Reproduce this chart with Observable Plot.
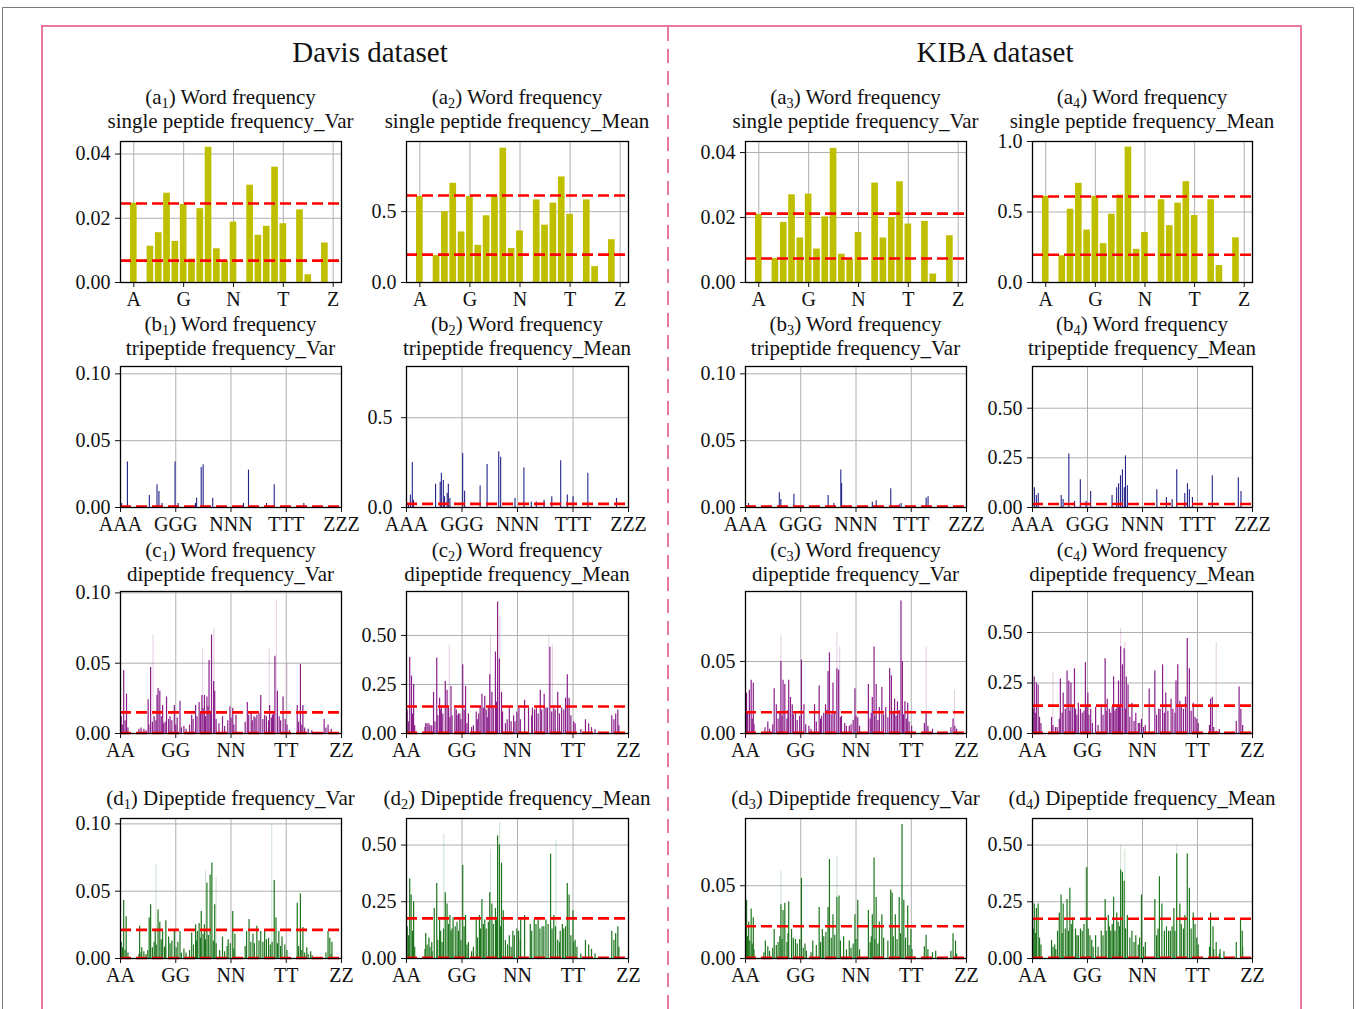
<!DOCTYPE html>
<html><head><meta charset="utf-8">
<script src="https://cdn.jsdelivr.net/npm/d3@7"></script>
<script src="https://cdn.jsdelivr.net/npm/@observablehq/plot@0.6"></script>
<style>
body{margin:0;background:#fff;}
#root{position:relative;width:1360px;height:1009px;overflow:hidden;background:#fff;font-family:"Liberation Serif",serif;color:#111;}
.ttl{position:absolute;transform:translateX(-50%);white-space:nowrap;font-size:21px;line-height:22px;height:22px;text-align:center;}
.ds{position:absolute;transform:translateX(-50%);white-space:nowrap;font-size:29px;line-height:34px;}
.sb{font-size:0.68em;position:relative;top:0.28em;line-height:0;}
</style></head><body><div id="root"></div>
<script>
// ---------- tick labels ----------
const singleTicks = ["A","G","N","T","Z"];
const diTicks = ["AA","GG","NN","TT","ZZ"];
const triTicks = ["AAA","GGG","NNN","TTT","ZZZ"];

// ---------- (a) single peptide frequency, 25 letters A..Z without J ----------
const a1Var  = [0.0247,0,0.0113,0.0155,0.0278,0.0128,0.0243,0.0073,0.0230,0.0421,0.0105,0.0069,0.0188,0,0.0303,0.0147,0.0175,0.0359,0.0183,0,0.0226,0.0024,0,0.0123,0];
const a2Mean = [0.607,0,0.19,0.50,0.70,0.357,0.607,0.262,0.471,0.607,0.948,0.24,0.364,0,0.583,0.405,0.56,0.745,0.481,0,0.583,0.112,0,0.302,0];
const a3Var  = [0.0210,0,0.0074,0.0185,0.0270,0.0137,0.0272,0.0103,0.0202,0.0413,0.0087,0.0072,0.0154,0,0.0306,0.0137,0.0200,0.0310,0.0180,0,0.0188,0.0026,0,0.0144,0];
const a4Mean = [0.611,0,0.19,0.52,0.703,0.372,0.611,0.276,0.484,0.62,0.96,0.235,0.355,0,0.587,0.403,0.563,0.715,0.475,0,0.587,0.12,0,0.317,0];

// ---------- (b) tripeptide frequency: [index of 15625, value] ----------
const b1Var  = [[82,0.003],[489,0.034],[2038,0.009],[2581,0.017],[2717,0.012],[2934,0.003],[3858,0.034],[4075,0.003],[5298,0.003],[5380,0.007],[5706,0.030],[5842,0.032],[6521,0.007],[8694,0.003],[9048,0.028],[10325,0.003],[10868,0.017],[12960,0.003]];
const b2Mean = [[136,0.02],[273,0.07],[409,0.25],[491,0.04],[2045,0.13],[2372,0.14],[2454,0.19],[2591,0.15],[2672,0.06],[2863,0.08],[2945,0.13],[3054,0.05],[3954,0.30],[4091,0.09],[5181,0.12],[5672,0.24],[6490,0.31],[6627,0.28],[7636,0.05],[8263,0.22],[8781,0.03],[9136,0.03],[9681,0.04],[10226,0.06],[10853,0.26],[11317,0.07],[11726,0.06],[12762,0.19],[14780,0.05]];
const b3Var  = [[217,0.003],[2391,0.011],[2500,0.006],[3423,0.010],[5842,0.009],[6249,0.003],[6738,0.028],[6793,0.018],[8966,0.004],[9238,0.005],[10270,0.014],[10868,0.002],[11004,0.003],[12770,0.007],[12906,0.008]];
const b4Mean = [[136,0.10],[272,0.06],[408,0.07],[2038,0.06],[2174,0.04],[2581,0.27],[2989,0.03],[3396,0.14],[3804,0.03],[4130,0.08],[5651,0.06],[5977,0.10],[6113,0.12],[6249,0.16],[6385,0.19],[6521,0.10],[6603,0.26],[6738,0.11],[8830,0.09],[9510,0.05],[9917,0.04],[10243,0.19],[10814,0.07],[11004,0.12],[11140,0.09],[11357,0.05],[12770,0.16],[14617,0.15],[14807,0.08]];

// ---------- (c) word dipeptide frequency: [index of 625, value] ----------
const c1Var  = [[9,0.0446],[17,0.028],[78,0.024],[85,0.047],[103,0.027],[106,0.032],[111,0.030],[119,0.020],[130,0.026],[136,0.010],[152,0.020],[168,0.023],[179,0.005],[201,0.013],[212,0.020],[222,0.022],[230,0.027],[237,0.027],[244,0.026],[250,0.052],[257,0.070],[263,0.037],[266,0.030],[288,0.012],[309,0.019],[317,0.018],[326,0.013],[358,0.022],[369,0.015],[377,0.012],[385,0.013],[396,0.027],[407,0.013],[421,0.020],[429,0.013],[436,0.055],[443,0.030],[459,0.026],[477,0.002],[499,0.020],[508,0.049],[515,0.020],[575,0.010],[586,0.006]];
const c1Low  = [[2,0.012],[5,0.006],[13,0.009],[21,0.004],[52,0.003],[58,0.004],[66,0.003],[72,0.002],[80,0.006],[90,0.008],[95,0.012],[100,0.009],[115,0.012],[122,0.007],[126,0.008],[140,0.012],[145,0.009],[156,0.006],[160,0.011],[172,0.004],[185,0.003],[195,0.006],[205,0.010],[216,0.012],[226,0.015],[233,0.018],[240,0.012],[247,0.019],[254,0.014],[270,0.010],[278,0.007],[294,0.005],[303,0.009],[312,0.011],[320,0.006],[352,0.008],[362,0.013],[372,0.009],[380,0.011],[391,0.014],[402,0.010],[412,0.012],[418,0.009],[426,0.011],[432,0.014],[448,0.012],[452,0.009],[465,0.010],[470,0.006],[503,0.008],[512,0.006],[520,0.004],[530,0.003],[540,0.002],[580,0.004],[595,0.003]];
const c1Faint = [[92,0.07],[232,0.06],[264,0.075],[420,0.06],[440,0.095],[470,0.05]];
const c2Mean = [[9,0.388],[14,0.293],[20,0.25],[54,0.05],[63,0.05],[71,0.04],[76,0.21],[85,0.385],[93,0.18],[98,0.14],[109,0.265],[114,0.22],[125,0.24],[136,0.13],[142,0.09],[150,0.10],[158,0.35],[166,0.24],[174,0.10],[183,0.03],[196,0.11],[207,0.14],[212,0.20],[220,0.19],[227,0.08],[234,0.30],[240,0.21],[250,0.415],[256,0.67],[261,0.38],[267,0.21],[278,0.05],[289,0.13],[305,0.06],[316,0.13],[332,0.17],[343,0.13],[354,0.13],[365,0.13],[376,0.22],[387,0.20],[392,0.13],[403,0.44],[414,0.13],[425,0.21],[447,0.18],[452,0.30],[457,0.18],[474,0.05],[490,0.02],[577,0.09],[588,0.10],[594,0.12]];
const c2Low  = [[2,0.12],[5,0.06],[17,0.10],[23,0.04],[52,0.03],[58,0.05],[66,0.04],[80,0.06],[88,0.09],[95,0.12],[102,0.10],[118,0.13],[122,0.08],[128,0.09],[140,0.12],[146,0.10],[153,0.07],[162,0.12],[170,0.05],[188,0.04],[199,0.07],[203,0.10],[216,0.13],[224,0.12],[230,0.14],[244,0.13],[253,0.16],[270,0.11],[283,0.07],[294,0.06],[301,0.09],[310,0.11],[320,0.07],[352,0.09],[360,0.12],[370,0.10],[380,0.12],[396,0.13],[408,0.11],[418,0.12],[430,0.10],[436,0.13],[442,0.12],[462,0.09],[470,0.06],[503,0.07],[512,0.05],[520,0.03],[530,0.02],[583,0.07],[597,0.04]];
const c2Faint = [[120,0.45],[236,0.50],[262,0.60],[400,0.50],[410,0.45]];
const c3Var  = [[3,0.028],[11,0.030],[16,0.037],[22,0.035],[63,0.008],[81,0.031],[87,0.020],[100,0.050],[106,0.037],[111,0.034],[122,0.037],[127,0.025],[132,0.020],[141,0.015],[158,0.051],[165,0.020],[179,0.005],[195,0.020],[208,0.033],[215,0.012],[226,0.020],[233,0.043],[237,0.056],[247,0.035],[258,0.045],[263,0.044],[271,0.012],[280,0.007],[293,0.005],[309,0.031],[317,0.011],[347,0.034],[358,0.025],[363,0.060],[369,0.034],[378,0.018],[385,0.032],[396,0.018],[407,0.045],[412,0.040],[421,0.024],[429,0.022],[439,0.092],[443,0.050],[450,0.022],[458,0.021],[469,0.005],[510,0.015],[586,0.010],[591,0.005]];
const c3Low  = [[6,0.014],[19,0.010],[24,0.006],[55,0.004],[68,0.003],[77,0.006],[92,0.010],[97,0.014],[103,0.012],[117,0.010],[120,0.016],[135,0.013],[146,0.009],[153,0.012],[170,0.006],[185,0.003],[200,0.008],[212,0.010],[221,0.014],[230,0.016],[242,0.013],[252,0.015],[268,0.011],[285,0.005],[298,0.006],[304,0.009],[312,0.012],[322,0.005],[352,0.010],[355,0.014],[365,0.012],[374,0.009],[390,0.013],[402,0.011],[417,0.014],[425,0.012],[434,0.016],[446,0.013],[454,0.010],[462,0.008],[505,0.007],[515,0.005],[528,0.003],[580,0.004],[596,0.003]];
const c3Faint = [[100,0.068],[258,0.07],[266,0.06],[510,0.06],[590,0.03]];
const c4Mean = [[5,0.28],[11,0.25],[16,0.24],[54,0.08],[65,0.03],[79,0.27],[87,0.20],[98,0.31],[103,0.26],[109,0.25],[119,0.32],[130,0.15],[141,0.10],[150,0.35],[157,0.20],[165,0.12],[179,0.13],[195,0.14],[206,0.37],[212,0.17],[222,0.10],[230,0.28],[237,0.12],[244,0.26],[250,0.43],[255,0.34],[260,0.42],[266,0.28],[271,0.24],[282,0.15],[293,0.10],[304,0.05],[315,0.03],[331,0.22],[347,0.31],[358,0.12],[369,0.34],[378,0.20],[393,0.17],[407,0.26],[412,0.34],[418,0.16],[434,0.18],[439,0.47],[445,0.32],[456,0.15],[461,0.08],[505,0.17],[510,0.18],[521,0.01],[586,0.23],[591,0.12]];
const c4Low  = [[2,0.12],[8,0.10],[20,0.08],[24,0.05],[58,0.04],[70,0.03],[76,0.07],[84,0.10],[93,0.12],[106,0.11],[114,0.13],[122,0.12],[126,0.09],[136,0.12],[146,0.11],[154,0.13],[160,0.09],[170,0.05],[186,0.04],[200,0.09],[209,0.11],[218,0.12],[226,0.13],[234,0.11],[240,0.14],[247,0.13],[264,0.12],[276,0.08],[288,0.06],[300,0.05],[309,0.07],[320,0.04],[352,0.09],[362,0.12],[374,0.10],[384,0.11],[398,0.12],[404,0.10],[422,0.13],[428,0.12],[450,0.11],[466,0.07],[470,0.05],[502,0.04],[514,0.03],[530,0.02],[578,0.06],[596,0.04]];
const c4Faint = [[58,0.30],[250,0.52],[262,0.45],[521,0.45]];

// ---------- (d) dipeptide frequency: [index of 625, value] ----------
const d1Var  = [[9,0.043],[16,0.031],[54,0.024],[60,0.008],[81,0.030],[85,0.040],[98,0.022],[106,0.036],[111,0.027],[119,0.020],[128,0.028],[136,0.016],[152,0.020],[168,0.020],[179,0.007],[201,0.019],[212,0.025],[217,0.020],[222,0.026],[228,0.035],[237,0.025],[244,0.056],[253,0.062],[258,0.071],[266,0.040],[288,0.016],[304,0.014],[317,0.035],[323,0.018],[356,0.020],[363,0.029],[374,0.018],[385,0.024],[396,0.020],[407,0.020],[418,0.015],[434,0.058],[439,0.030],[447,0.020],[456,0.016],[499,0.041],[508,0.048],[515,0.023],[526,0.008],[537,0.005],[586,0.020],[591,0.015],[597,0.012]];
const d1Low  = [[2,0.012],[6,0.008],[13,0.006],[21,0.004],[52,0.003],[58,0.004],[66,0.005],[72,0.003],[77,0.006],[90,0.008],[95,0.012],[101,0.010],[115,0.014],[124,0.008],[126,0.009],[140,0.011],[145,0.013],[157,0.008],[162,0.012],[172,0.004],[185,0.004],[195,0.006],[206,0.010],[214,0.013],[226,0.015],[233,0.018],[240,0.014],[248,0.017],[262,0.013],[270,0.011],[280,0.006],[294,0.005],[301,0.009],[310,0.011],[320,0.007],[352,0.009],[368,0.012],[378,0.011],[391,0.013],[402,0.012],[412,0.014],[423,0.010],[428,0.012],[443,0.011],[452,0.009],[464,0.010],[470,0.006],[503,0.009],[512,0.006],[520,0.004],[530,0.003],[541,0.002],[580,0.004],[595,0.003]];
const d1Faint = [[100,0.07],[240,0.065],[270,0.06],[427,0.10]];
const d2Mean = [[9,0.35],[13,0.28],[20,0.25],[54,0.11],[63,0.09],[71,0.07],[78,0.22],[85,0.33],[93,0.17],[100,0.07],[109,0.29],[114,0.24],[122,0.19],[131,0.18],[142,0.16],[150,0.17],[158,0.41],[166,0.19],[174,0.07],[183,0.03],[196,0.18],[205,0.19],[212,0.26],[220,0.17],[234,0.29],[240,0.24],[250,0.22],[256,0.54],[261,0.50],[267,0.42],[272,0.21],[289,0.10],[299,0.12],[310,0.13],[321,0.18],[332,0.19],[348,0.15],[359,0.17],[370,0.18],[381,0.14],[392,0.17],[405,0.46],[414,0.19],[425,0.08],[430,0.07],[447,0.14],[452,0.33],[457,0.28],[468,0.21],[474,0.08],[479,0.05],[490,0.02],[577,0.12],[588,0.11],[594,0.14]];
const d2Low  = [[2,0.14],[6,0.10],[17,0.12],[23,0.05],[52,0.04],[58,0.06],[66,0.05],[72,0.03],[88,0.08],[96,0.12],[104,0.13],[118,0.15],[125,0.12],[128,0.13],[137,0.14],[146,0.12],[153,0.08],[162,0.14],[170,0.06],[188,0.05],[200,0.09],[208,0.13],[216,0.15],[224,0.13],[230,0.16],[244,0.15],[253,0.17],[264,0.14],[278,0.08],[284,0.06],[294,0.05],[303,0.10],[315,0.12],[320,0.08],[352,0.12],[364,0.15],[375,0.13],[386,0.14],[398,0.15],[409,0.13],[419,0.14],[432,0.12],[438,0.15],[442,0.13],[462,0.10],[470,0.07],[503,0.08],[512,0.06],[520,0.04],[530,0.02],[583,0.08],[597,0.05]];
const d2Faint = [[105,0.55],[236,0.48],[262,0.60],[420,0.52]];
const d3Var  = [[3,0.040],[9,0.025],[16,0.034],[22,0.028],[56,0.012],[63,0.008],[81,0.020],[100,0.037],[106,0.033],[111,0.038],[122,0.039],[130,0.020],[141,0.013],[158,0.055],[168,0.010],[190,0.012],[208,0.035],[217,0.020],[233,0.035],[237,0.068],[247,0.030],[258,0.042],[264,0.043],[277,0.015],[293,0.012],[309,0.030],[317,0.040],[347,0.033],[358,0.030],[363,0.069],[369,0.042],[378,0.025],[385,0.030],[410,0.047],[414,0.045],[423,0.030],[434,0.042],[442,0.092],[447,0.040],[458,0.036],[467,0.020],[510,0.016],[537,0.005],[586,0.017],[593,0.012]];
const d3Low  = [[6,0.015],[12,0.012],[19,0.010],[24,0.006],[52,0.004],[68,0.005],[77,0.007],[87,0.009],[92,0.011],[97,0.015],[103,0.013],[117,0.011],[120,0.017],[135,0.014],[146,0.010],[153,0.013],[163,0.007],[172,0.005],[185,0.004],[200,0.009],[212,0.011],[221,0.015],[227,0.018],[242,0.014],[252,0.016],[268,0.012],[285,0.006],[298,0.007],[304,0.010],[312,0.013],[322,0.006],[352,0.011],[355,0.015],[365,0.013],[374,0.010],[390,0.014],[402,0.012],[417,0.015],[428,0.013],[438,0.017],[452,0.014],[462,0.009],[470,0.006],[505,0.008],[515,0.006],[528,0.004],[580,0.005],[596,0.003]];
const d3Faint = [[100,0.06],[258,0.07],[442,0.05]];
const d4Mean = [[5,0.24],[11,0.22],[16,0.24],[54,0.08],[63,0.06],[71,0.12],[76,0.20],[81,0.28],[87,0.24],[98,0.26],[106,0.31],[114,0.18],[130,0.10],[146,0.15],[154,0.40],[163,0.10],[179,0.10],[195,0.12],[206,0.26],[215,0.19],[222,0.12],[230,0.27],[239,0.20],[250,0.39],[255,0.38],[260,0.34],[269,0.19],[282,0.12],[293,0.10],[309,0.28],[320,0.07],[347,0.26],[360,0.36],[367,0.24],[380,0.14],[391,0.12],[401,0.22],[409,0.46],[418,0.24],[432,0.19],[439,0.46],[445,0.31],[456,0.20],[461,0.15],[505,0.20],[512,0.14],[521,0.07],[532,0.04],[543,0.03],[590,0.17],[595,0.12]];
const d4Low  = [[2,0.13],[8,0.11],[20,0.09],[24,0.06],[58,0.05],[66,0.04],[84,0.11],[93,0.13],[102,0.12],[110,0.15],[122,0.13],[126,0.10],[136,0.13],[141,0.12],[158,0.13],[168,0.08],[172,0.05],[186,0.05],[200,0.10],[209,0.12],[218,0.14],[226,0.15],[234,0.12],[243,0.16],[247,0.14],[264,0.13],[276,0.09],[288,0.07],[300,0.06],[304,0.09],[315,0.05],[352,0.10],[356,0.13],[374,0.12],[386,0.12],[396,0.14],[404,0.12],[422,0.15],[428,0.13],[450,0.13],[466,0.09],[470,0.06],[502,0.05],[514,0.04],[530,0.02],[578,0.07],[596,0.05]];
const d4Faint = [[150,0.40],[250,0.50],[262,0.48],[409,0.50]];

// ---------- threshold lines (red dashed) ----------
const thrA = {a1:[0.0246,0.0068], a2:[0.614,0.197], a3:[0.0212,0.0074], a4:[0.61,0.197]};
const thrB = {b1:[0.0008], b2:[0.02], b3:[0.0008], b4:[0.018]};
const thrC = {c1:[0.015,0.0004], c2:[0.138,0.003], c3:[0.0148,0.0004], c4:[0.138,0.003]};
const thrD = {d1:[0.0213,0.0004], d2:[0.177,0.003], d3:[0.0222,0.0004], d4:[0.175,0.003]};

// ---------- layout ----------
const root = document.getElementById("root");
const COLS = [[120,341],[406,628],[745,966],[1032,1252]];
const ROWS = [[141,282],[366,507],[591,733],[818,958]];
const COL_A = "#bfbf00", COL_B = "#23238a", COL_C = "#8a1f8a", COL_D = "#1c761c";

function panel(p){
  const [L,R] = COLS[p.col], [T,B] = ROWS[p.row];
  const mL=72,mR=24,mT=12,mB=40;
  const W=R-L, H=B-T;
  const xT = p.xTicks, xLab = p.xLabels;
  const marks = [
    Plot.ruleY(p.yTicks.filter(t=>t>0), {stroke:"#b0b0b0", strokeWidth:1}),
    Plot.ruleX(xT, {stroke:"#b0b0b0", strokeWidth:1})
  ];
  if (p.bars) {
    const rows = p.bars.map((v,i)=>({i,v})).filter(d=>d.v>0);
    marks.push(Plot.rect(rows, {x1:d=>d.i-0.4, x2:d=>d.i+0.4, y1:d=>0, y2:d=>d.v, fill:p.color}));
  } else {
    if (p.faint) marks.push(Plot.ruleX(p.faint, {x:d=>d[0], y1:d=>0, y2:d=>d[1], stroke:p.color, strokeOpacity:0.22, strokeWidth:1}));
    marks.push(Plot.ruleX(p.spikes, {x:d=>d[0], y1:d=>0, y2:d=>d[1], stroke:p.color, strokeWidth:p.sw||1.2}));
  }
  marks.push(Plot.ruleY(p.thr, {stroke:"#ff0000", strokeWidth:2.6, strokeDasharray:"11,5"}));
  marks.push(Plot.frame({stroke:"#000", strokeWidth:1.3}));
  const chart = Plot.plot({
    width:W+mL+mR, height:H+mT+mB,
    marginLeft:mL, marginRight:mR, marginTop:mT, marginBottom:mB,
    x:{type:"linear", domain:p.xDomain, ticks:xT, tickFormat:d=>xLab[xT.indexOf(d)], tickSize:5, tickPadding:4, label:null},
    y:{type:"linear", domain:[0,p.yMax], ticks:p.yTicks, tickFormat:d=>d.toFixed(p.dec), tickSize:5, tickPadding:p.yPad||5, label:null},
    style:{fontFamily:'"Liberation Serif", serif', fontSize:"20px", background:"transparent", color:"#111", overflow:"visible"},
    marks
  });
  chart.style.position="absolute";
  chart.style.left=(L-mL)+"px";
  chart.style.top=(T-mT)+"px";
  root.appendChild(chart);
  const cx=(L+R)/2;
  p.title.forEach((t,k)=>{
    const d=document.createElement("div");
    d.className="ttl";
    d.style.left=cx+"px";
    d.style.top=(p.titleY[k]-11)+"px";
    d.innerHTML=t;
    root.appendChild(d);
  });
}

const xA = {xDomain:[-1.6,25], xTicks:[0,6,12,18,24], xLabels:singleTicks};
const xB = {xDomain:[0,15624], xTicks:[0,3906,7812,11718,15624], xLabels:triTicks};
const xC = {xDomain:[0,624], xTicks:[0,156,312,468,624], xLabels:diTicks};
const sub = (l,n)=>`(${l}<span class="sb">${n}</span>)`;
const tA=[97,121], tB=[324,348], tC=[550,574], tD=[798];

// Row a
panel({row:0,col:0,...xA,bars:a1Var,color:COL_A,thr:thrA.a1,yMax:0.0439,yTicks:[0,0.02,0.04],dec:2,title:[sub("a",1)+" Word frequency","single peptide frequency_Var"],titleY:tA});
panel({row:0,col:1,...xA,bars:a2Mean,color:COL_A,thr:thrA.a2,yMax:0.995,yTicks:[0,0.5],dec:1,title:[sub("a",2)+" Word frequency","single peptide frequency_Mean"],titleY:tA});
panel({row:0,col:2,...xA,bars:a3Var,color:COL_A,thr:thrA.a3,yMax:0.0434,yTicks:[0,0.02,0.04],dec:2,title:[sub("a",3)+" Word frequency","single peptide frequency_Var"],titleY:tA});
panel({row:0,col:3,...xA,bars:a4Mean,color:COL_A,thr:thrA.a4,yMax:1.0,yTicks:[0,0.5,1.0],dec:1,title:[sub("a",4)+" Word frequency","single peptide frequency_Mean"],titleY:tA});
// Row b
panel({row:1,col:0,...xB,spikes:b1Var,color:COL_B,sw:1.1,thr:thrB.b1,yMax:0.1055,yTicks:[0,0.05,0.10],dec:2,title:[sub("b",1)+" Word frequency","tripeptide frequency_Var"],titleY:tB});
panel({row:1,col:1,...xB,spikes:b2Mean,color:COL_B,sw:1.1,thr:thrB.b2,yMax:0.785,yTicks:[0,0.5],dec:1,yPad:9,title:[sub("b",2)+" Word frequency","tripeptide frequency_Mean"],titleY:tB});
panel({row:1,col:2,...xB,spikes:b3Var,color:COL_B,sw:1.1,thr:thrB.b3,yMax:0.1055,yTicks:[0,0.05,0.10],dec:2,title:[sub("b",3)+" Word frequency","tripeptide frequency_Var"],titleY:tB});
panel({row:1,col:3,...xB,spikes:b4Mean,color:COL_B,sw:1.1,thr:thrB.b4,yMax:0.71,yTicks:[0,0.25,0.5],dec:2,title:[sub("b",4)+" Word frequency","tripeptide frequency_Mean"],titleY:tB});
// Row c
panel({row:2,col:0,...xC,spikes:c1Var.concat(c1Low),faint:c1Faint,color:COL_C,thr:thrC.c1,yMax:0.101,yTicks:[0,0.05,0.10],dec:2,title:[sub("c",1)+" Word frequency","dipeptide frequency_Var"],titleY:tC});
panel({row:2,col:1,...xC,spikes:c2Mean.concat(c2Low),faint:c2Faint,color:COL_C,thr:thrC.c2,yMax:0.724,yTicks:[0,0.25,0.5],dec:2,title:[sub("c",2)+" Word frequency","dipeptide frequency_Mean"],titleY:tC});
panel({row:2,col:2,...xC,spikes:c3Var.concat(c3Low),faint:c3Faint,color:COL_C,thr:thrC.c3,yMax:0.0986,yTicks:[0,0.05],dec:2,title:[sub("c",3)+" Word frequency","dipeptide frequency_Var"],titleY:tC});
panel({row:2,col:3,...xC,spikes:c4Mean.concat(c4Low),faint:c4Faint,color:COL_C,thr:thrC.c4,yMax:0.703,yTicks:[0,0.25,0.5],dec:2,title:[sub("c",4)+" Word frequency","dipeptide frequency_Mean"],titleY:tC});
// Row d
panel({row:3,col:0,...xC,spikes:d1Var.concat(d1Low),faint:d1Faint,color:COL_D,thr:thrD.d1,yMax:0.104,yTicks:[0,0.05,0.10],dec:2,title:[sub("d",1)+" Dipeptide frequency_Var"],titleY:tD});
panel({row:3,col:1,...xC,spikes:d2Mean.concat(d2Low),faint:d2Faint,color:COL_D,thr:thrD.d2,yMax:0.617,yTicks:[0,0.25,0.5],dec:2,title:[sub("d",2)+" Dipeptide frequency_Mean"],titleY:tD});
panel({row:3,col:2,...xC,spikes:d3Var.concat(d3Low),faint:d3Faint,color:COL_D,thr:thrD.d3,yMax:0.0962,yTicks:[0,0.05],dec:2,title:[sub("d",3)+" Dipeptide frequency_Var"],titleY:tD});
panel({row:3,col:3,...xC,spikes:d4Mean.concat(d4Low),faint:d4Faint,color:COL_D,thr:thrD.d4,yMax:0.617,yTicks:[0,0.25,0.5],dec:2,title:[sub("d",4)+" Dipeptide frequency_Mean"],titleY:tD});

// ---------- frame decorations ----------
const ns="http://www.w3.org/2000/svg";
const deco=document.createElementNS(ns,"svg");
deco.setAttribute("width",1360); deco.setAttribute("height",1009);
deco.style.position="absolute"; deco.style.left="0"; deco.style.top="0"; deco.style.pointerEvents="none";
deco.innerHTML=`
<path d="M2.5,1009 V7.5 H1353.5 V1009" fill="none" stroke="#7a7a7a" stroke-width="1"/>
<path d="M42,1009 V26 H1301 V1009" fill="none" stroke="#e8799c" stroke-width="2"/>
<line x1="668" y1="27" x2="668" y2="1009" stroke="#e8799c" stroke-width="2" stroke-dasharray="14,8"/>`;
root.appendChild(deco);
[["Davis dataset",370],["KIBA dataset",995]].forEach(([t,x])=>{
  const d=document.createElement("div"); d.className="ds";
  d.style.left=x+"px"; d.style.top="35px"; d.textContent=t; root.appendChild(d);
});
</script></body></html>
